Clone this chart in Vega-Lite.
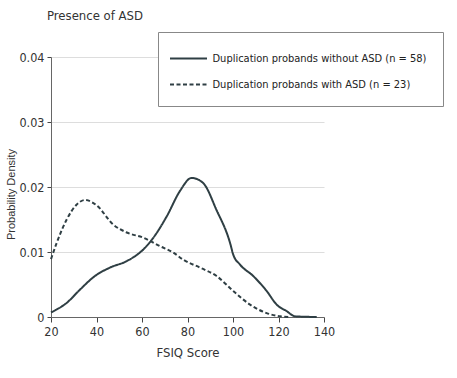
{
  "$schema": "https://vega.github.io/schema/vega-lite/v6.json",
  "width": 273,
  "height": 260,
  "autosize": "none",
  "padding": {"left": 51, "top": 57, "right": 133, "bottom": 61},
  "background": "white",
  "title": {
    "text": "Presence of ASD",
    "anchor": "start",
    "frame": "group",
    "dx": -4,
    "offset": 9,
    "font": "DejaVu Sans Condensed",
    "fontSize": 13,
    "fontWeight": "normal",
    "color": "#333"
  },
  "data": {
    "values": [
      {"x": 20, "y": 0.0007, "g": "Duplication probands without ASD (n = 58)"},
      {"x": 27, "y": 0.0022, "g": "Duplication probands without ASD (n = 58)"},
      {"x": 32.7, "y": 0.0042, "g": "Duplication probands without ASD (n = 58)"},
      {"x": 39.3, "y": 0.0063, "g": "Duplication probands without ASD (n = 58)"},
      {"x": 45.9, "y": 0.0076, "g": "Duplication probands without ASD (n = 58)"},
      {"x": 53.3, "y": 0.0086, "g": "Duplication probands without ASD (n = 58)"},
      {"x": 60.6, "y": 0.0104, "g": "Duplication probands without ASD (n = 58)"},
      {"x": 65, "y": 0.0122, "g": "Duplication probands without ASD (n = 58)"},
      {"x": 70.9, "y": 0.0155, "g": "Duplication probands without ASD (n = 58)"},
      {"x": 76.7, "y": 0.0194, "g": "Duplication probands without ASD (n = 58)"},
      {"x": 81.8, "y": 0.0214, "g": "Duplication probands without ASD (n = 58)"},
      {"x": 86.9, "y": 0.0206, "g": "Duplication probands without ASD (n = 58)"},
      {"x": 92.7, "y": 0.0165, "g": "Duplication probands without ASD (n = 58)"},
      {"x": 98.7, "y": 0.0114, "g": "Duplication probands without ASD (n = 58)"},
      {"x": 100.1, "y": 0.0096, "g": "Duplication probands without ASD (n = 58)"},
      {"x": 103, "y": 0.0081, "g": "Duplication probands without ASD (n = 58)"},
      {"x": 108.9, "y": 0.0063, "g": "Duplication probands without ASD (n = 58)"},
      {"x": 114.8, "y": 0.004, "g": "Duplication probands without ASD (n = 58)"},
      {"x": 119.2, "y": 0.0019, "g": "Duplication probands without ASD (n = 58)"},
      {"x": 123.6, "y": 0.0009, "g": "Duplication probands without ASD (n = 58)"},
      {"x": 127.3, "y": 0.0001, "g": "Duplication probands without ASD (n = 58)"},
      {"x": 136.8, "y": 0, "g": "Duplication probands without ASD (n = 58)"},
      {"x": 20, "y": 0.0089, "g": "Duplication probands with ASD (n = 23)"},
      {"x": 22.5, "y": 0.0114, "g": "Duplication probands with ASD (n = 23)"},
      {"x": 26.9, "y": 0.015, "g": "Duplication probands with ASD (n = 23)"},
      {"x": 31.3, "y": 0.0173, "g": "Duplication probands with ASD (n = 23)"},
      {"x": 34.9, "y": 0.018, "g": "Duplication probands with ASD (n = 23)"},
      {"x": 40, "y": 0.0172, "g": "Duplication probands with ASD (n = 23)"},
      {"x": 47.4, "y": 0.0142, "g": "Duplication probands with ASD (n = 23)"},
      {"x": 53.3, "y": 0.013, "g": "Duplication probands with ASD (n = 23)"},
      {"x": 60.6, "y": 0.0122, "g": "Duplication probands with ASD (n = 23)"},
      {"x": 67.9, "y": 0.0109, "g": "Duplication probands with ASD (n = 23)"},
      {"x": 73.8, "y": 0.0099, "g": "Duplication probands with ASD (n = 23)"},
      {"x": 78.2, "y": 0.0088, "g": "Duplication probands with ASD (n = 23)"},
      {"x": 85.5, "y": 0.0076, "g": "Duplication probands with ASD (n = 23)"},
      {"x": 92.8, "y": 0.0063, "g": "Duplication probands with ASD (n = 23)"},
      {"x": 100.1, "y": 0.004, "g": "Duplication probands with ASD (n = 23)"},
      {"x": 107.5, "y": 0.0019, "g": "Duplication probands with ASD (n = 23)"},
      {"x": 114.8, "y": 0.0006, "g": "Duplication probands with ASD (n = 23)"},
      {"x": 120.7, "y": 0.0001, "g": "Duplication probands with ASD (n = 23)"},
      {"x": 125, "y": 0, "g": "Duplication probands with ASD (n = 23)"}
    ]
  },
  "mark": {"type": "line", "interpolate": "monotone", "strokeWidth": 2, "color": "#2f3f44", "clip": false},
  "encoding": {
    "x": {
      "field": "x", "type": "quantitative",
      "scale": {"domain": [20, 140], "nice": false, "zero": false},
      "axis": {
        "title": "FSIQ Score", "values": [20, 40, 60, 80, 100, 120, 140],
        "grid": false, "tickSize": 5, "labelPadding": 3, "titlePadding": 9,
        "labelFlush": false, "labelOverlap": false
      }
    },
    "y": {
      "field": "y", "type": "quantitative",
      "scale": {"domain": [0, 0.04], "nice": false},
      "axis": {
        "title": "Probability Density", "values": [0, 0.01, 0.02, 0.03, 0.04],
        "format": "~g", "grid": true, "tickSize": 4, "labelPadding": 3,
        "labelFlush": false, "labelOverlap": false,
        "titleFont": "Liberation Sans", "titleFontSize": 11, "titlePadding": 2, "titleY": 137
      }
    },
    "strokeDash": {
      "field": "g", "type": "nominal",
      "scale": {
        "domain": ["Duplication probands without ASD (n = 58)", "Duplication probands with ASD (n = 23)"],
        "range": [[1, 0], [4, 2.5]]
      },
      "legend": {
        "title": null,
        "orient": "none",
        "legendX": 107,
        "legendY": -25,
        "symbolType": "M-2,0H2",
        "symbolSize": 342,
        "symbolStrokeWidth": 2,
        "symbolStrokeColor": "#2f3f44",
        "symbolFillColor": "transparent",
        "symbolOffset": 4,
        "labelFont": "DejaVu Sans Condensed",
        "labelFontSize": 11,
        "labelColor": "#222",
        "labelOffset": 13.5,
        "rowPadding": 10,
        "padding": 16,
        "strokeColor": "#888",
        "fillColor": "white",
        "labelLimit": 400
      }
    }
  },
  "config": {
    "view": {"stroke": null},
    "axis": {
      "labelFont": "DejaVu Sans Condensed",
      "labelFontSize": 12.5,
      "labelColor": "#333",
      "titleFont": "DejaVu Sans Condensed",
      "titleFontSize": 13,
      "titleFontWeight": "normal",
      "titleColor": "#333",
      "domainColor": "#666",
      "tickColor": "#444",
      "gridColor": "#ddd",
      "gridWidth": 1
    }
  }
}
